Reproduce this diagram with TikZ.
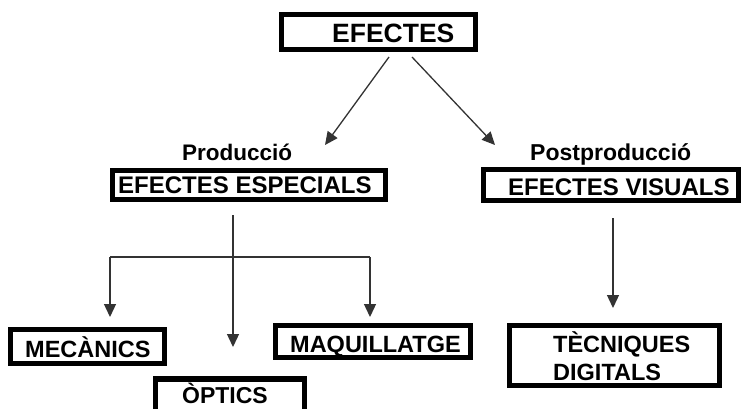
\documentclass[tikz,border=0pt]{standalone}
\usepackage{fontspec}
\setmainfont{Liberation Sans}
\usetikzlibrary{arrows.meta}
\tikzset{
  box/.style={draw=black, line width=5.5pt, fill=white, rectangle, inner sep=0pt},
  lbl/.style={anchor=base west, inner sep=0pt, font=\bfseries},
  conn/.style={draw=black!80, line width=1.3pt},
  arr/.style={conn, -{Triangle[width=12pt,length=13pt]}}
}
\begin{document}
\begin{tikzpicture}[x=1pt,y=-1pt]
\useasboundingbox (0,0) rectangle (747,408);
\clip (0,0) rectangle (747,408);
% boxes
\node[box, minimum width=194pt, minimum height=35pt] (top) at (378.5,32) {};
\node[box, minimum width=273pt, minimum height=29pt] (esp) at (249,185) {};
\node[box, minimum width=255pt, minimum height=31pt] (vis) at (611,185) {};
\node[box, minimum width=154pt, minimum height=34pt] (mec) at (87.5,346.5) {};
\node[box, minimum width=149pt, minimum height=39pt] (opt) at (230,398.5) {};
\node[box, minimum width=195pt, minimum height=32pt] (maq) at (373,341.5) {};
\node[box, minimum width=210pt, minimum height=60pt] (tec) at (614.5,355.5) {};
% texts
\node[lbl, font=\fontsize{26.5}{30}\bfseries] (ttop) at (332,42) {EFECTES};
\node[lbl, font=\fontsize{22.5}{26}\bfseries] (tprod) at (182,160) {Producció};
\node[lbl, font=\fontsize{24}{28}\bfseries] (tesp) at (118,193) {EFECTES ESPECIALS};
\node[lbl, font=\fontsize{23}{27}\bfseries] (tpost) at (530,160) {Postproducció};
\node[lbl, font=\fontsize{24}{28}\bfseries] (tvis) at (508,195) {EFECTES VISUALS};
\node[lbl, font=\fontsize{23.5}{27}\bfseries] (tmec) at (25,357) {MECÀNICS};
\node[lbl, font=\fontsize{23}{27}\bfseries] (topt) at (182,403) {ÒPTICS};
\node[lbl, font=\fontsize{23.5}{27}\bfseries] (tmaq) at (290,352) {MAQUILLATGE};
\node[lbl, font=\fontsize{23.5}{27}\bfseries] (ttec1) at (553,352) {TÈCNIQUES};
\node[lbl, font=\fontsize{23.5}{27}\bfseries] (ttec2) at (553,380) {DIGITALS};
% connector points
\coordinate (s1) at (389,57);
\coordinate (e1) at (325,145);
\coordinate (s2) at (412,57);
\coordinate (e2) at (495,145);
\coordinate (st) at (233,215);
\coordinate (j) at (233,257);
\coordinate (jl) at (110,257);
\coordinate (jr) at (370,257);
\coordinate (el) at (110,317);
\coordinate (em) at (233,347);
\coordinate (er) at (370,317);
\coordinate (vs) at (613,218);
\coordinate (ve) at (613,308);
% connectors
\draw[arr] (s1) -- (e1);
\draw[arr] (s2) -- (e2);
\draw[conn] (st) -- (j);
\draw[conn] (jl) -- (jr);
\draw[arr] (jl) -- (el);
\draw[arr] (j) -- (em);
\draw[arr] (jr) -- (er);
\draw[arr] (vs) -- (ve);
\end{tikzpicture}
\end{document}
